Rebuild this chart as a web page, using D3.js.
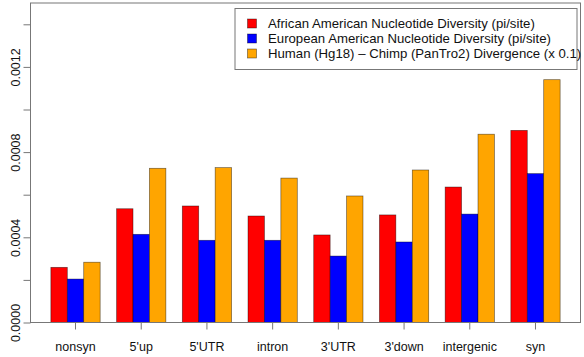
<!DOCTYPE html>
<html>
<head>
<meta charset="utf-8">
<script src="https://cdn.jsdelivr.net/npm/d3@7/dist/d3.min.js"></script>
<style>
  body { margin: 0; background: #fff; }
  svg text { font-family: 'Liberation Sans', Arial, Helvetica, sans-serif; }
</style>
</head>
<body>
<div id="chart"><svg></svg></div>
<script>
// categories on the x axis
const categories = ['nonsyn', "5'up", "5'UTR", 'intron', "3'UTR", "3'down", 'intergenic', 'syn']

// series names (legend) and values
const seriesNames = [
  'African American Nucleotide Diversity (pi/site)',
  'European American Nucleotide Diversity (pi/site)',
  'Human (Hg18) \u2013 Chimp (PanTro2) Divergence (x 0.1)'
]
const african = [0.000259, 0.000534, 0.000547, 0.000500, 0.000411, 0.000505, 0.000636, 0.000902]
const european = [0.000204, 0.000414, 0.000386, 0.000386, 0.000312, 0.000378, 0.000509, 0.000699]
const humanChimp = [0.000283, 0.000724, 0.000727, 0.000678, 0.000594, 0.000716, 0.000884, 0.001140]

const yTicks = [0, 0.0002, 0.0004, 0.0006, 0.0008, 0.0010, 0.0012, 0.0014]
const yLabels = [0, 0.0004, 0.0008, 0.0012]

const colors = ['#ff0000', '#0000ff', '#ffa500']

const width = 584
const height = 357
const plot = { left: 30.5, right: 580.5, top: 3, bottom: 322.5 }

const svg = d3.select('#chart').select('svg')
  .attr('width', width)
  .attr('height', height)

// R style barplot: 1 unit gap + 3 bars per group, 4% padding each side
const units = d3.scaleLinear().domain([-0.24, 33.24]).range([plot.left, plot.right])

const xScale = d3.scaleBand()
  .domain(categories)
  .range([units(1), units(32)])
  .paddingInner(0.25)

const xSub = d3.scaleBand()
  .domain(seriesNames)
  .range([0, xScale.bandwidth()])

const yScale = d3.scaleLinear().domain([0, 0.0015]).range([plot.bottom, plot.top])

const color = d3.scaleOrdinal().domain(seriesNames).range(colors)

const rows = categories.map((c, i) => ({
  cat: c,
  vals: [african[i], european[i], humanChimp[i]]
}))

// bars
const groups = svg.append('g').attr('class', 'bars')
  .selectAll('g')
  .data(rows)
  .join('g')
  .attr('transform', d => 'translate(' + xScale(d.cat) + ',0)')

groups.selectAll('rect')
  .data(d => d.vals.map((v, j) => ({ name: seriesNames[j], v: v })))
  .join('rect')
  .attr('x', d => xSub(d.name))
  .attr('y', d => yScale(d.v))
  .attr('width', xSub.bandwidth())
  .attr('height', d => yScale(0) - yScale(d.v))
  .attr('fill', d => color(d.name))
  .attr('stroke', '#000')
  .attr('stroke-opacity', 0.55)
  .attr('stroke-width', 0.7)

// box
svg.append('rect')
  .attr('x', plot.left)
  .attr('y', plot.top)
  .attr('width', plot.right - plot.left)
  .attr('height', plot.bottom - plot.top)
  .attr('fill', 'none')
  .attr('stroke', '#777')
  .attr('stroke-width', 1)

// x axis
const xAxis = svg.append('g')
  .attr('class', 'x axis')
  .attr('transform', 'translate(0,' + plot.bottom + ')')
  .call(d3.axisBottom(xScale).tickSize(7).tickSizeOuter(0))
xAxis.select('.domain').remove()
xAxis.selectAll('line').attr('stroke', '#777')
xAxis.selectAll('text')
  .attr('y', 28.5)
  .attr('dy', 0)
  .attr('fill', '#111')
  .attr('font-size', 12.5)
  .attr('font-family', null)

// y axis
const yAxis = svg.append('g')
  .attr('class', 'y axis')
  .attr('transform', 'translate(' + plot.left + ',0)')
  .call(d3.axisLeft(yScale).tickValues(yTicks).tickSize(7).tickSizeOuter(0)
    .tickFormat(d => yLabels.some(l => Math.abs(l - d) < 1e-9) ? d3.format('.4f')(d) : ''))
yAxis.select('.domain').remove()
yAxis.selectAll('line').attr('stroke', '#777')
yAxis.selectAll('text')
  .attr('x', null)
  .attr('y', null)
  .attr('dy', 0)
  .attr('text-anchor', 'middle')
  .attr('transform', 'translate(-11,0) rotate(-90)')
  .attr('fill', '#111')
  .attr('font-size', 12.5)
  .attr('font-family', null)

// legend
const legend = svg.append('g').attr('class', 'legend')
legend.append('rect')
  .attr('x', 235)
  .attr('y', 8.5)
  .attr('width', 342)
  .attr('height', 61)
  .attr('fill', '#fff')
  .attr('stroke', '#777')

const items = legend.selectAll('g')
  .data(seriesNames)
  .join('g')
  .attr('transform', (d, i) => 'translate(247.5,' + (23.5 + i * 15) + ')')

items.append('rect')
  .attr('x', 0)
  .attr('y', -4.5)
  .attr('width', 9)
  .attr('height', 9)
  .attr('fill', d => color(d))
  .attr('stroke', '#000')
  .attr('stroke-opacity', 0.55)
  .attr('stroke-width', 0.7)

items.append('text')
  .text(d => d)
  .attr('x', 20.5)
  .attr('y', 4.7)
  .attr('fill', '#111')
  .attr('font-size', 13.2)
</script>
</body>
</html>
